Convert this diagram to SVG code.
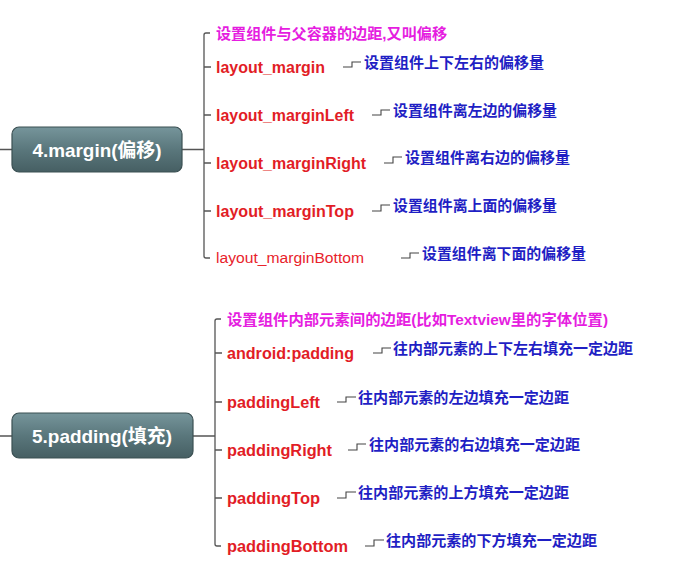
<svg xmlns="http://www.w3.org/2000/svg" width="686" height="576" viewBox="0 0 686 576">
<defs>
<linearGradient id="nodeGrad" x1="0" y1="0" x2="0" y2="1">
<stop offset="0" stop-color="#76959b"/>
<stop offset="0.5" stop-color="#5a777c"/>
<stop offset="1" stop-color="#465f63"/>
</linearGradient>
<style>
.node rect{fill:url(#nodeGrad);stroke:#3b5053;stroke-width:1.2}
.node text{fill:#ffffff;font-family:"Liberation Sans","Noto Sans CJK SC",sans-serif;font-weight:bold;font-size:19px;text-anchor:middle}
.ln{fill:none;stroke:#555555;stroke-width:1.3}
.st{fill:none;stroke:#444444;stroke-width:1.1}
.red{fill:#e21d26;font-family:"Liberation Sans","Noto Sans CJK SC",sans-serif;font-weight:bold;font-size:16px}
.redn{fill:#e8232c;font-family:"Liberation Sans","Noto Sans CJK SC",sans-serif;font-size:15.5px}
.mag{fill:#e51de0;font-family:"Liberation Sans","Noto Sans CJK SC",sans-serif;font-weight:bold;font-size:15px}
.blue{fill:#1f1fc4;font-family:"Noto Sans CJK SC","Liberation Sans",sans-serif;font-weight:bold;font-size:15px}
</style>
</defs>
<rect width="686" height="576" fill="#ffffff"/>

<g id="connectors">
<path class="ln" d="M0 149.5H12M182 149.5H204"/>
<path class="ln" d="M210 33H206Q204 33 204 35V256Q204 258 206 258H210"/>
<path class="ln" d="M204 67H211M204 115H211M204 163H211M204 211H211"/>
<path class="st" d="M343 67H352V62H361"/>
<path class="st" d="M372 115H381V110H390"/>
<path class="st" d="M384 163H393V157H402"/>
<path class="st" d="M372 211H381V205H390"/>
<path class="st" d="M401 258H410V253H419"/>
<path class="ln" d="M0 436H12M193 436H215"/>
<path class="ln" d="M221 319H217Q215 319 215 321V544Q215 546 217 546H221"/>
<path class="ln" d="M215 353H222M215 402H222M215 450H222M215 498H222"/>
<path class="st" d="M373 353H382V348H391"/>
<path class="st" d="M337 402H346V397H356"/>
<path class="st" d="M348 450H357V444H366"/>
<path class="st" d="M337 498H346V492H356"/>
<path class="st" d="M365 546H374V540H384"/>
</g>

<g id="node-margin" class="node">
<rect x="12" y="127" width="170" height="45" rx="7"/>
<text x="97" y="156.5" textLength="129" lengthAdjust="spacingAndGlyphs">4.margin(偏移)</text>
</g>
<g id="m-desc"><text class="mag" x="216" y="38.5" textLength="231" lengthAdjust="spacingAndGlyphs">设置组件与父容器的边距,又叫偏移</text></g>
<g id="m-margin"><text class="red" x="216" y="72.5" textLength="109" lengthAdjust="spacingAndGlyphs">layout_margin</text></g>
<g id="m-margin-d"><text class="blue" x="364" y="67.5" textLength="180" lengthAdjust="spacingAndGlyphs">设置组件上下左右的偏移量</text></g>
<g id="m-left"><text class="red" x="216" y="120.5" textLength="138" lengthAdjust="spacingAndGlyphs">layout_marginLeft</text></g>
<g id="m-left-d"><text class="blue" x="393" y="115.5" textLength="164" lengthAdjust="spacingAndGlyphs">设置组件离左边的偏移量</text></g>
<g id="m-right"><text class="red" x="216" y="168.5" textLength="150" lengthAdjust="spacingAndGlyphs">layout_marginRight</text></g>
<g id="m-right-d"><text class="blue" x="405" y="162.5" textLength="165" lengthAdjust="spacingAndGlyphs">设置组件离右边的偏移量</text></g>
<g id="m-top"><text class="red" x="216" y="216.5" textLength="138" lengthAdjust="spacingAndGlyphs">layout_marginTop</text></g>
<g id="m-top-d"><text class="blue" x="393" y="210.5" textLength="164" lengthAdjust="spacingAndGlyphs">设置组件离上面的偏移量</text></g>
<g id="m-bottom"><text class="redn" x="216" y="263" textLength="148" lengthAdjust="spacingAndGlyphs">layout_marginBottom</text></g>
<g id="m-bottom-d"><text class="blue" x="422" y="259" textLength="164" lengthAdjust="spacingAndGlyphs">设置组件离下面的偏移量</text></g>

<g id="node-padding" class="node">
<rect x="12" y="413" width="181" height="45" rx="7"/>
<text x="102" y="442.5" textLength="140" lengthAdjust="spacingAndGlyphs">5.padding(填充)</text>
</g>
<g id="p-desc"><text class="mag" x="227" y="324.5" textLength="381" lengthAdjust="spacingAndGlyphs">设置组件内部元素间的边距(比如Textview里的字体位置)</text></g>
<g id="p-padding"><text class="red" x="227" y="358.5" textLength="127" lengthAdjust="spacingAndGlyphs">android:padding</text></g>
<g id="p-padding-d"><text class="blue" x="393" y="353.5" textLength="240" lengthAdjust="spacingAndGlyphs">往内部元素的上下左右填充一定边距</text></g>
<g id="p-left"><text class="red" x="227" y="407.5" textLength="93" lengthAdjust="spacingAndGlyphs">paddingLeft</text></g>
<g id="p-left-d"><text class="blue" x="358" y="402.5" textLength="211" lengthAdjust="spacingAndGlyphs">往内部元素的左边填充一定边距</text></g>
<g id="p-right"><text class="red" x="227" y="455.5" textLength="105" lengthAdjust="spacingAndGlyphs">paddingRight</text></g>
<g id="p-right-d"><text class="blue" x="369" y="449.5" textLength="211" lengthAdjust="spacingAndGlyphs">往内部元素的右边填充一定边距</text></g>
<g id="p-top"><text class="red" x="227" y="503.5" textLength="93" lengthAdjust="spacingAndGlyphs">paddingTop</text></g>
<g id="p-top-d"><text class="blue" x="358" y="497.5" textLength="211" lengthAdjust="spacingAndGlyphs">往内部元素的上方填充一定边距</text></g>
<g id="p-bottom"><text class="red" x="227" y="551.5" textLength="121" lengthAdjust="spacingAndGlyphs">paddingBottom</text></g>
<g id="p-bottom-d"><text class="blue" x="386" y="545.5" textLength="211" lengthAdjust="spacingAndGlyphs">往内部元素的下方填充一定边距</text></g>
</svg>
